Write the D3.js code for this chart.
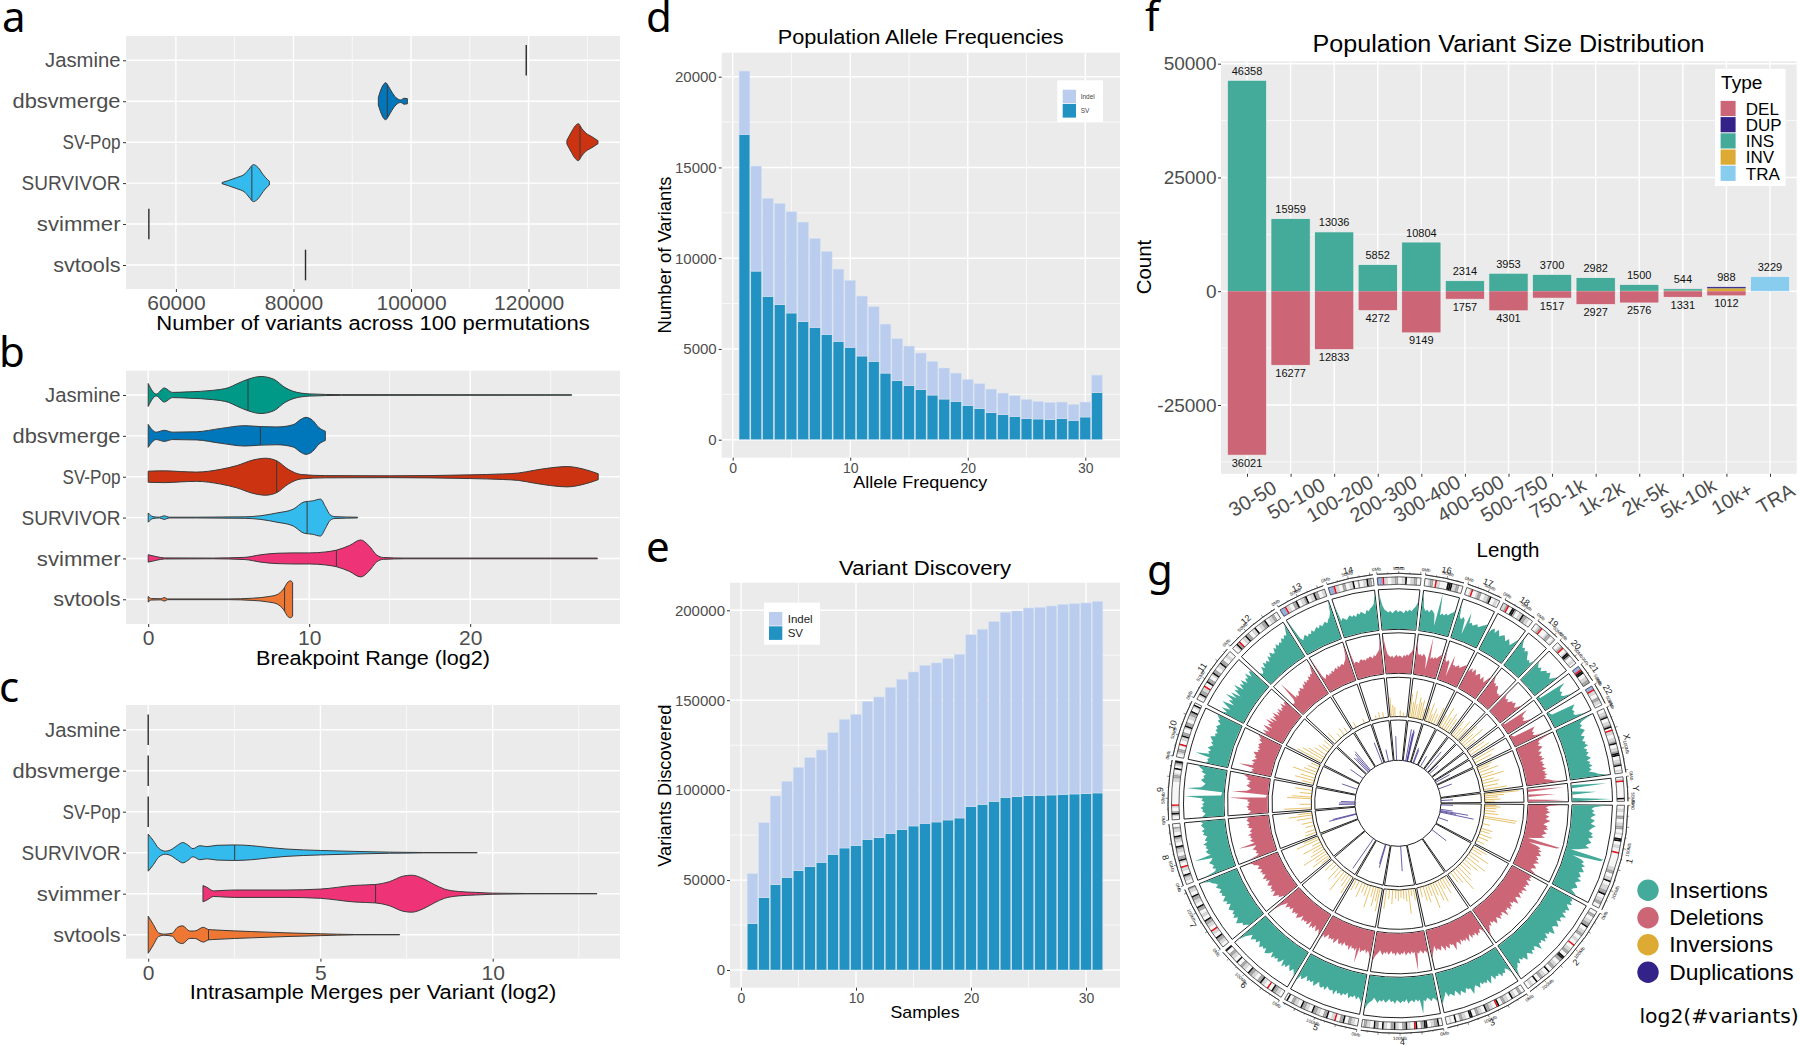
<!DOCTYPE html>
<html lang="en">
<head>
<meta charset="UTF-8">
<title>Population SV merging figure</title>
<script src="https://d3js.org/d3.v7.min.js"></script>
<style>
    body{ margin: 0; background: white; }
    svg{ display: block; }
    text{ font-family: "Liberation Sans", Arial, sans-serif; }
</style>
</head>
<body>
<svg></svg>
<script>
    // ---- panels a-c: violins, [value, relative density]
    const callers = ["Jasmine","dbsvmerge","SV-Pop","SURVIVOR","svimmer","svtools"];
    const callerLabelWidths = [75.5,108,58,99,83.7,67.3];
    const callerColors = ["#009988","#0077BB","#CC3311","#33BBEE","#EE3377","#EE7733"];

    const aSingles = {Jasmine:119600, svimmer:55400, svtools:82050};
    const aDbsvmerge = [[94440,.2],[94790,.55],[95200,.85],[95690,1],[96180,.8],[96730,.5],[97430,.2],[98260,.07],[98820,.16],[99370,.14]];
    const aSvpop = [[126520,.1],[127290,.55],[127980,.9],[128470,1],[129020,.75],[129720,.5],[130760,.3],[131800,.08]];
    const aSurvivor = [[67850,.03],[68960,.14],[70350,.3],[71740,.5],[72430,.75],[73190,1],[73960,.85],[74860,.45],[75550,.2],[75900,.1]];
    const aMedians = {dbsvmerge:95970, "SV-Pop":128750, SURVIVOR:72920};

    const bJasmine = [[0,.62],[.5,.05],[1,.38],[1.5,.14],[2.5,.17],[4,.25],[5,.4],[5.5,.6],[6.2,.85],[7,1],[7.8,.85],[8.5,.4],[9,.2],[10,.06],[12,.02],[26.3,.01]];
    const bDbsvmerge = [[0,.62],[.5,.2],[1,.3],[1.5,.2],[3,.22],[4.5,.4],[6,.55],[7,.5],[8,.48],[9,.6],[9.5,.9],[9.8,1],[10.2,.85],[10.6,.45],[11,.25]];
    const bSvpop = [[0,.3],[1,.32],[2,.28],[3,.25],[4.5,.4],[5.5,.6],[6.5,.9],[7.3,1],[8,.85],[8.7,.4],[9.5,.12],[11,.06],[15,.05],[20,.1],[22,.15],[23,.2],[24,.35],[25,.48],[26,.55],[27,.42],[27.95,.16]];
    const bSurvivor = [[0,.25],[.3,.05],[.7,.02],[1,.1],[1.3,.02],[3,.02],[6,.04],[7,.1],[8,.25],[9,.45],[9.7,.85],[10.2,.9],[10.7,1],[11,.6],[11.3,.15],[11.6,.05],[13,.02]];
    const bSvimmer = [[0,.2],[.5,.1],[1,.03],[4,.02],[6,.06],[7,.2],[8,.28],[9,.3],[10,.3],[11,.35],[11.7,.45],[12.5,.7],[13.2,1],[13.7,.7],[14.2,.18],[14.6,.05],[16,.02],[27.9,.02]];
    const bSvtools = [[0,.15],[.2,.04],[.8,.03],[1,.1],[1.2,.02],[5,.02],[6.5,.06],[7.5,.15],[8,.25],[8.4,.55],[8.7,.95],[8.85,1],[8.97,.9]];
    const bMedians = [6.2,6.97,7.98,9.87,11.69,8.47];

    const cSingles = {Jasmine:0, dbsvmerge:0, "SV-Pop":0};
    const cSurvivor = [[0,1],[.15,.65],[.3,.25],[.5,.08],[.65,.15],[.85,.4],[1,.55],[1.15,.42],[1.3,.22],[1.5,.38],[1.7,.33],[2,.4],[2.5,.42],[3,.38],[3.5,.28],[4,.2],[5,.12],[6,.07],[7,.03],[8,.01],[9.55,.005]];
    const cSvimmer = [[1.59,.44],[1.7,.35],[1.9,.15],[2.2,.18],[2.5,.2],[4,.2],[5,.25],[6,.45],[6.6,.5],[7,.65],[7.4,.95],[7.65,1],[8,.8],[8.3,.5],[8.6,.25],[9,.12],[9.5,.07],[10,.03],[11,.01],[13.03,.005]];
    const cSvtools = [[0,1],[.15,.55],[.3,.1],[.45,.03],[.7,.08],[.85,.4],[1,.48],[1.2,.2],[1.35,.2],[1.6,.4],[1.75,.28],[2,.25],[3,.17],[4,.1],[5,.05],[6,.01],[7.3,.005]];
    const cMedians = {SURVIVOR:2.51, svimmer:6.6, svtools:1.75};

    // ---- panel d
    const afBins = d3.range(1,32);
    const afSv = [16820,9290,7900,7440,6980,6500,6190,5800,5420,5090,4610,4315,3670,3250,2990,2755,2460,2240,2110,1890,1710,1490,1380,1285,1155,1140,1100,1155,1065,1250,2590];
    const afIndel = [3490,5787,5396,5580,5580,5490,4900,4575,3980,3690,3305,3015,2700,2315,2170,2020,1855,1710,1560,1435,1375,1300,1190,1140,1065,970,955,920,880,825,970];

    // ---- panel e
    const discSv = [25770,40220,47450,51530,55240,57460,59870,64320,67840,69320,72660,73590,76000,78040,80080,81560,82300,83410,84520,90830,92120,93790,96020,96390,96940,97130,97310,97690,97870,98060,98430];
    const discIndel = [27800,41710,49310,53380,57460,60610,62470,67660,71550,72850,76740,78220,81190,83600,85630,87860,88420,89900,91010,95640,97320,99910,102870,103240,104360,104540,105100,105650,105840,106020,106580];

    // ---- panel f
    const sizeBins = ["30-50","50-100","100-200","200-300","300-400","400-500","500-750","750-1k","1k-2k","2k-5k","5k-10k","10k+","TRA"];
    const sizeIns = [46358,15959,13036,5852,10804,2314,3953,3680,2920,1400,380,40,0];
    const sizeInv = [0,0,0,0,0,0,0,20,60,90,130,630,0];
    const sizeDup = [0,0,0,0,0,0,0,0,2,10,34,318,0];
    const sizeTra = [0,0,0,0,0,0,0,0,0,0,0,0,3229];
    const sizeDel = [36021,16277,12833,4272,9149,1757,4301,1517,2927,2576,1331,1012,0];
    const typeNames = ["DEL","DUP","INS","INV","TRA"];
    const typeColors = ["#CC6677","#332288","#44AA99","#DDAA33","#88CCEE"];

    // ---- panel g: circos tracks, one list per chromosome (% of ring height)
    const chrNames = ["1","2","3","4","5","6","7","8","9","10","11","12","13","14","15","16","17","18","19","20","21","22","X","Y"];
    const chrLengths = [248,242,198,190,181,170,159,145,138,133,135,133,114,107,102,90,83,80,58,64,46,50,156,57];
    const chrBands = [
        "wwllwwggwwllggwwlwwkkwwllwwrwwwwwwwwllggwwllkwwlllggkwwllggww",
        "wwggwwllggkwwllggwwllwwrwwllggwwkkggwwllggwwkwwllggwwkwwllww",
        "wwggwwllkwwllggwwkrwwllggkwwllggwwkkwwllggwwkwwlww",
        "wwkggllwwkkggwwkrwwllkggwwllkggwwllkwwggkwwllggw",
        "wwllggwwkggwwrllwwkggwwllggkwwllggkwwllggwwkw",
        "wwllggkwwrwwllkggwwllggkwwllggwwkwwllggwwk",
        "wwllggkwwllrwwllggkwwllwwggkwwllggkwwllg",
        "wwllgkwwllrwwlkggwwllgkwwllgkwwllgww",
        "wwlkgwwlrwwwwwwwwwwwwwllgglwwkwlgk",
        "wwlggwwrwwllkggwwlkggwwllggkwwlkw",
        "wwlkggllrwwkggwwlkggwwllkggwwllww",
        "wwlkgrwwllkggwwllkwwllggkwwllggww",
        "bbbrllwwggkwwllgkwwllkggwwll",
        "bbbrllwwggwwllkwwgwwllkggw",
        "bbbrllwwllggwwllkwwllggww",
        "wwlggwrllwwwwkkkllggww",
        "wwlrwwlggwwllgkwwllw",
        "llgrwwkkgwwllkggllww",
        "wwlgrwwwlggwwl",
        "wwlgrwwlkkgwwllw",
        "bbrkkwwllgg",
        "bbrllwwggllw",
        "wwllgkwwllgkwrllwwllgkwwllgkkwwllgkwwlw",
        "wlrwwwwwwwwwkw"
    ];
    const insTrack = [
        [84,55,48,56,50,60,52,47,58,54,49,62,55,50,46,57,53,60,48,52,58,50,45,56,42,30,12,96,90,20,44,52,47,58,50,55,60,48,53,57,50,62,54,49,56,60,52,48,58,66],
        [58,64,60,68,56,62,70,60,65,58,72,63,60,68,57,64,70,61,58,66,74,60,63,55,68,62,70,58,64,60,76,62,57,66,60,70,63,58,66,72,60,64,56,68,62,70,74,92],
        [72,60,56,66,62,70,58,64,60,68,54,62,72,58,66,60,64,56,70,62,58,66,78,60,62,56,68,64,58,70,60,54,66,62,58,64,50,60,68,80],
        [70,62,58,66,60,56,64,60,94,58,62,56,64,58,60,66,54,62,58,64,60,56,66,58,62,54,60,64,56,62,58,66,60,54,62,66,72,84],
        [74,64,58,66,56,62,60,68,54,62,58,66,60,64,56,70,58,62,60,54,66,58,64,62,52,60,68,56,62,58,64,52,60,66,58,76],
        [68,60,54,64,58,50,62,56,66,48,58,62,54,60,56,64,50,58,62,66,54,60,56,64,58,52,62,56,60,66,54,62,70,88],
        [44,50,58,54,62,68,60,56,66,58,62,54,60,64,58,52,62,56,66,60,54,62,58,64,56,60,66,58,62,70,74,90],
        [78,52,48,56,50,54,60,52,48,92,50,56,60,52,58,54,62,50,56,52,48,58,54,60,52,56,60,54,62],
        [56,50,46,54,52,58,50,54,48,56,52,98,8,6,6,94,58,52,48,56,60,52,56,50,62,58,66,72],
        [58,50,54,48,86,52,56,50,60,54,48,56,52,58,62,50,54,48,56,52,58,54,50,60,56,62,68],
        [62,48,66,44,58,72,42,60,50,74,46,66,40,62,52,70,44,60,50,64,46,58,52,66,48,62,58],
        [40,32,36,48,38,52,44,50,42,56,48,60,52,50,62,56,66,58,64,60,70,64,72,68,80,92],
        [100,44,36,42,46,38,44,40,48,42,46,50,44,52,46,50,54,48,56,60,70,100],
        [84,42,48,44,40,46,50,44,48,42,50,46,52,48,44,54,50,56,60,66,90],
        [90,62,50,46,42,46,40,44,48,42,46,44,40,48,44,50,46,52,58,70],
        [96,58,50,54,48,56,52,46,18,100,46,52,48,54,50,56,60,66],
        [88,56,50,58,52,16,74,48,52,46,50,54,48,52,56,60,64],
        [46,58,64,54,66,60,52,58,62,56,50,60,54,48,60,72],
        [82,70,62,66,58,64,60,52,46,50,44,56],
        [64,56,52,58,50,56,62,58,66,60,54,62,72],
        [8,6,78,62,56,60,52,58,76],
        [6,6,10,70,64,58,62,56,60,82],
        [96,68,60,64,56,62,66,58,52,60,56,50,58,54,62,48,56,52,58,50,54,60,48,56,52,60,50,56,48,62,70,90],
        [1,1,88,2,1,1,62,1,1,2,96,1]
    ];
    const delTrack = [
        [78,50,44,52,46,56,48,44,54,50,45,58,52,46,42,53,49,56,44,48,54,46,42,52,38,26,10,94,86,16,40,48,43,54,46,51,56,44,49,53,46,58,50,45,52,56,48,44,54,62],
        [50,56,52,60,48,54,62,52,57,50,64,55,52,60,49,56,62,53,50,58,66,52,55,47,60,54,62,50,56,52,68,54,49,58,52,62,55,50,58,64,52,56,48,60,54,62,66,80],
        [64,52,48,58,54,62,50,56,52,60,46,54,64,50,58,52,56,48,62,54,50,58,70,52,54,48,60,56,50,62,52,46,58,54,50,56,42,52,60,72],
        [58,52,48,56,50,46,54,50,96,48,52,46,54,48,50,56,44,52,48,54,50,46,56,48,52,44,50,54,46,52,48,56,50,44,52,56,62,74],
        [66,56,50,58,48,54,52,60,46,88,50,58,52,56,48,62,50,54,52,46,58,50,56,54,44,52,60,48,54,50,56,44,52,58,50,68],
        [60,52,46,56,50,42,54,48,58,40,50,54,46,52,48,56,42,50,54,58,46,52,48,56,50,44,54,48,52,58,46,54,62,84],
        [40,46,54,50,58,64,56,52,62,54,58,50,56,60,54,48,58,52,62,56,50,58,54,60,52,56,62,54,58,66,68,78],
        [72,50,44,52,46,50,56,48,44,88,46,52,56,48,54,50,58,46,52,48,44,54,50,56,48,52,56,50,58],
        [50,46,42,50,48,54,46,50,44,52,48,96,6,4,4,90,54,48,44,52,56,48,52,46,58,54,62,68],
        [52,46,50,44,84,48,52,46,56,50,44,52,48,54,58,46,50,44,52,48,54,50,46,56,52,58,64],
        [56,46,60,42,54,64,40,56,48,66,44,60,40,56,48,62,42,54,46,58,44,52,48,60,46,56,52],
        [38,34,36,44,92,40,46,40,44,50,46,54,48,46,56,50,60,52,58,54,64,58,66,62,74,86],
        [96,42,34,40,44,36,42,38,46,40,44,48,42,50,44,48,50,46,52,56,66,96],
        [78,40,44,42,38,44,46,42,44,40,46,44,48,46,42,50,46,52,56,62,88],
        [96,66,48,44,40,44,38,42,46,40,44,42,38,46,42,48,44,50,54,66],
        [90,54,48,52,46,54,50,44,16,98,44,50,46,52,48,54,58,62],
        [84,52,48,54,50,14,70,46,48,44,48,52,46,50,54,58,60],
        [44,54,60,50,62,56,48,54,58,52,46,56,50,44,56,68],
        [76,66,58,62,54,60,56,48,44,46,42,52],
        [60,52,48,54,46,52,58,54,62,56,50,58,68],
        [8,6,72,58,52,56,48,54,70],
        [6,6,10,66,60,54,58,52,56,78],
        [92,62,56,60,52,58,62,54,48,56,52,46,54,50,58,44,52,48,54,46,50,56,44,52,48,56,46,52,44,58,66,84],
        [1,1,90,2,1,1,70,1,1,2,92,1]
    ];
    // spikes: [% along the chromosome, % of ring height]
    const invTrack = [
        [[3,30],[6,40],[10,30],[16,28],[22,36],[30,85],[34,82],[48,20],[60,30],[66,24],[74,34],[82,28],[92,22]],
        [[6,40],[12,30],[20,55],[28,34],[36,60],[44,45],[52,30],[60,38],[68,50],[76,70],[84,40],[92,30]],
        [[8,30],[16,45],[24,28],[32,60],[40,52],[48,35],[56,66],[64,30],[72,45],[80,38],[90,26]],
        [[6,30],[14,18],[22,62],[30,30],[38,24],[46,20],[54,28],[62,22],[72,36],[82,24],[92,50]],
        [[8,60],[14,35],[22,50],[30,28],[40,58],[50,30],[60,25],[70,40],[82,22],[92,30]],
        [[8,50],[18,35],[28,25],[38,60],[50,30],[62,42],[76,20],[88,32]],
        [[6,28],[14,50],[24,36],[34,66],[44,40],[54,30],[64,52],[74,24],[86,62],[94,40]],
        [[10,30],[22,26],[40,22],[55,30],[72,40],[84,60],[92,36]],
        [[8,70],[24,30],[48,62],[55,50],[70,30],[85,44]],
        [[10,30],[22,50],[34,38],[50,62],[62,35],[76,28],[90,24]],
        [[8,70],[20,60],[30,46],[44,34],[60,30],[72,22],[88,26]],
        [[14,30],[40,15],[60,22],[78,16]],
        [[20,15],[70,12]],
        [[30,10],[50,16],[72,14]],
        [[8,50],[20,30],[30,24],[60,16],[78,10]],
        [[8,60],[20,40],[30,70],[42,36],[56,55],[66,44],[78,50],[90,30]],
        [[10,36],[26,50],[38,22],[52,40],[70,28],[88,48]],
        [[12,34],[30,60],[48,36],[64,52],[82,40]],
        [[18,46],[40,30],[62,56],[84,38]],
        [[14,60],[36,40],[58,66],[82,34]],
        [[30,50],[70,58]],
        [[28,62],[64,48]],
        [[6,40],[14,30],[24,52],[36,36],[46,60],[58,32],[68,44],[80,38],[92,60]],
        [[12,88],[30,50],[48,34],[70,40],[88,26]]
    ];
    const dupTrack = [
        [[6,30],[28,30],[34,70],[38,40],[42,85],[70,25]],
        [[35,45]],
        [],
        [[38,62]],
        [[30,60],[34,50]],
        [[20,90]],
        [],
        [[40,70],[45,60]],
        [[20,40],[30,40],[40,35]],
        [[50,40]],
        [[55,38]],
        [[20,50],[30,45],[40,55],[50,60]],
        [[80,55]],
        [[45,30]],
        [[30,60]],
        [[35,80],[50,70],[55,80],[60,75]],
        [[30,40],[40,35]],
        [[40,30]],
        [[40,60]],
        [[30,30]],
        [],
        [[40,40]],
        [[30,35]],
        [[50,30]]
    ];
    const circosLegend = ["Insertions","Deletions","Inversions","Duplications"];
    const circosColors = ["#44AA99","#CC6677","#DDAA33","#332288"];

    const svg = d3.select("svg").attr("width",1800).attr("height",1046);
    const gray = "#4d4d4d";

    function fit(sel, w){
        sel.attr("textLength",w).attr("lengthAdjust","spacingAndGlyphs");
        return sel;
    }
    function label(txt,x,y,size,w,anchor){
        const t = svg.append("text").attr("x",x).attr("y",y).attr("font-size",size)
            .attr("text-anchor",anchor||"middle").attr("fill","#000").text(txt);
        if(w) fit(t,w);
        return t;
    }
    function panel(b, xMajor, xMinor, yMajor, yMinor){
        const g = svg.append("g");
        g.append("rect").attr("x",b.x0).attr("y",b.y0).attr("width",b.x1-b.x0).attr("height",b.y1-b.y0).attr("fill","#EBEBEB");
        const vline = (v,w)=>g.append("line").attr("x1",v).attr("x2",v).attr("y1",b.y0).attr("y2",b.y1).attr("stroke","#fff").attr("stroke-width",w);
        const hline = (v,w)=>g.append("line").attr("y1",v).attr("y2",v).attr("x1",b.x0).attr("x2",b.x1).attr("stroke","#fff").attr("stroke-width",w);
        xMinor.forEach(v=>vline(v,.7));
        yMinor.forEach(v=>hline(v,.7));
        xMajor.forEach(v=>vline(v,1.4));
        yMajor.forEach(v=>hline(v,1.4));
    }
    function styleAxis(g, size){
        g.select(".domain").remove();
        g.selectAll("line").attr("stroke","#333");
        g.selectAll("text").attr("font-size",size).attr("fill",gray).style("font-family",'"Liberation Sans"');
    }

    // ---- violins
    function violinPanel(b, x, xTicks, xMinorTicks, yRange, singles, profiles, medians, title){
        const y = d3.scalePoint(callers, yRange);
        panel(b, xTicks.map(x), xMinorTicks.map(x), callers.map(y), []);
        svg.append("g").attr("transform",`translate(0,${b.y1})`)
            .call(d3.axisBottom(x).tickValues(xTicks).tickFormat(d=>String(d)).tickSize(3).tickPadding(3))
            .call(g=>styleAxis(g,21));
        svg.append("g").attr("transform",`translate(${b.x0},0)`)
            .call(d3.axisLeft(y).tickSize(3).tickPadding(2.5))
            .call(g=>styleAxis(g,20.5))
            .call(g=>g.selectAll("text").each(function(d){
                fit(d3.select(this),callerLabelWidths[callers.indexOf(d)]);
            }));

        const half = d3.scaleLinear([0,1],[0,18.5]);
        callers.forEach((c,i)=>{
            const yc = y(c);
            if(singles[c]!==undefined){
                svg.append("line").attr("x1",x(singles[c])).attr("x2",x(singles[c]))
                    .attr("y1",yc-15.3).attr("y2",yc+15.3).attr("stroke","#2b2b2b").attr("stroke-width",1.4);
                return;
            }
            const prof = profiles[c];
            const area = d3.area().x(d=>x(d[0])).y0(d=>yc-half(d[1])).y1(d=>yc+half(d[1])).curve(d3.curveMonotoneX);
            svg.append("path").attr("d",area(prof)).attr("fill",callerColors[i]).attr("stroke","#3a3a3a").attr("stroke-width",1);
            // median bar, density read back from the profile
            const m = medians[c];
            const j = d3.bisector(d=>d[0]).left(prof,m);
            const p0 = prof[j-1], p1 = prof[j];
            const dens = p0[1]+(p1[1]-p0[1])*(m-p0[0])/(p1[0]-p0[0]);
            svg.append("line").attr("x1",x(m)).attr("x2",x(m)).attr("y1",yc-half(dens)).attr("y2",yc+half(dens))
                .attr("stroke","#3a3a3a").attr("stroke-width",1);
        });
        label(title.text,373,title.y,19.5,title.w);
    }

    violinPanel({x0:126,x1:620,y0:36,y1:289},
        d3.scaleLinear([60000,120000],[175.9,528.6]),
        [60000,80000,100000,120000],[70000,90000,110000,130000],[60.3,265],
        aSingles,{dbsvmerge:aDbsvmerge,"SV-Pop":aSvpop,SURVIVOR:aSurvivor},aMedians,
        {text:"Number of variants across 100 permutations",y:330.2,w:433.5});

    violinPanel({x0:126,x1:620,y0:370.7,y1:624},
        d3.scaleLinear([0,20],[148.2,470.2]),
        [0,10,20],[5,15,25],[395,599.3],
        {},{Jasmine:bJasmine,dbsvmerge:bDbsvmerge,"SV-Pop":bSvpop,SURVIVOR:bSurvivor,svimmer:bSvimmer,svtools:bSvtools},
        Object.fromEntries(callers.map((c,i)=>[c,bMedians[i]])),
        {text:"Breakpoint Range (log2)",y:665.2,w:234});

    violinPanel({x0:126,x1:620,y0:705,y1:958.7},
        d3.scaleLinear([0,10],[148.2,492.7]),
        [0,5,10],[2.5,7.5,12.5],[729.7,934.7],
        cSingles,{SURVIVOR:cSurvivor,svimmer:cSvimmer,svtools:cSvtools},cMedians,
        {text:"Intrasample Merges per Variant (log2)",y:999.2,w:366.5});

    // ---- stacked bars d, e
    function stackPanel(b, x, y, xT, xM, yT, yM, sv, indel, xSize, ySize){
        panel(b, xT.map(x), xM.map(x), yT.map(y), yM.map(y));
        svg.append("g").attr("transform",`translate(0,${b.y1})`)
            .call(d3.axisBottom(x).tickValues(xT).tickFormat(d=>String(d)).tickSize(3).tickPadding(2))
            .call(g=>styleAxis(g,xSize));
        svg.append("g").attr("transform",`translate(${b.x0},0)`)
            .call(d3.axisLeft(y).tickValues(yT).tickFormat(d=>String(d)).tickSize(3).tickPadding(2))
            .call(g=>styleAxis(g,ySize));
        const rows = afBins.map((n,i)=>({n:n,SV:sv[i],Indel:indel[i]}));
        const fills = {SV:"#2192C2",Indel:"#BBCDEE"};
        d3.stack().keys(["SV","Indel"])(rows).forEach(s=>{
            svg.append("g").selectAll("rect").data(s).join("rect")
                .attr("x",d=>x(d.data.n-.46)).attr("width",d=>x(d.data.n+.46)-x(d.data.n-.46))
                .attr("y",d=>y(d[1])).attr("height",d=>y(d[0])-y(d[1]))
                .attr("fill",fills[s.key]).attr("stroke","#d5e3f2").attr("stroke-width",.5);
        });
    }
    function barLegend(x,y,w,h,sx,sy,tx,size,color){
        svg.append("rect").attr("x",x).attr("y",y).attr("width",w).attr("height",h).attr("fill","#fff");
        [["Indel","#BBCDEE"],["SV","#2192C2"]].forEach((d,i)=>{
            svg.append("rect").attr("x",sx).attr("y",sy+i*14.3).attr("width",13.3).attr("height",13.6).attr("fill",d[1]);
            svg.append("text").attr("x",tx).attr("y",sy+i*14.3+7).attr("dy",".35em")
                .attr("font-size",size).attr("fill",color).text(d[0]);
        });
    }

    stackPanel({x0:721.7,x1:1120,y0:52.7,y1:457.7},
        d3.scaleLinear([0,30],[732.7,1085.3]), d3.scaleLinear([0,20000],[439.7,76.7]),
        [0,10,20,30],[5,15,25],[0,5000,10000,15000,20000],[2500,7500,12500,17500],afSv,afIndel,14,15);
    barLegend(1057.3,80.3,45.7,41.7,1062.7,89.7,1080.7,6.5,"#444");
    label("Population Allele Frequencies",920.7,44.3,20,286);
    label("Allele Frequency",920.3,488,17,134);
    label("Number of Variants",0,0,18,157).attr("transform","translate(670.7,255) rotate(-90)");

    stackPanel({x0:730,x1:1120,y0:582.7,y1:987.7},
        d3.scaleLinear([0,30],[741,1086]), d3.scaleLinear([0,200000],[970,610.3]),
        [0,10,20,30],[5,15,25],[0,50000,100000,150000,200000],[25000,75000,125000,175000],discSv,discIndel,14,15);
    barLegend(764,602.7,56,42,769,612,787.7,11.5,"#222");
    label("Variant Discovery",925,575.3,20,172);
    label("Samples",925,1018.3,17,69);
    label("Variants Discovered",0,0,18,162).attr("transform","translate(670.7,785.7) rotate(-90)");

    // ---- size distribution f
    const fBox = {x0:1221,x1:1796.7,y0:61.3,y1:473.8};
    const fx = d3.scalePoint(sizeBins,[1247,1770]);
    const fy = d3.scaleLinear([-25000,50000],[405,63.7]);
    panel(fBox, sizeBins.map(fx), [], [50000,25000,0,-25000].map(fy), [37500,12500,-12500,-37500].map(fy));
    svg.append("g").attr("transform",`translate(0,${fBox.y1})`)
        .call(d3.axisBottom(fx).tickSize(3).tickFormat(""))
        .call(g=>styleAxis(g,17));
    svg.append("g").selectAll("text").data(sizeBins).join("text")
        .attr("transform",d=>`translate(${fx(d)+5.5},498.5) rotate(-30)`)
        .attr("text-anchor","middle").attr("dy",".35em").attr("font-size",20).attr("fill",gray).text(d=>d);
    svg.append("g").attr("transform",`translate(${fBox.x0},0)`)
        .call(d3.axisLeft(fy).tickValues([50000,25000,0,-25000]).tickFormat(d=>String(d)).tickSize(3).tickPadding(1.5))
        .call(g=>styleAxis(g,19));

    const sizeRows = sizeBins.map((n,i)=>({n:n,INV:sizeInv[i],INS:sizeIns[i],DUP:sizeDup[i],TRA:sizeTra[i],DEL:-sizeDel[i]}));
    const typeColor = d3.scaleOrdinal(typeNames,typeColors);
    const barW = fx.step()*.9;
    d3.stack().keys(["INV","INS","DUP","TRA"])(sizeRows).forEach(s=>{
        svg.append("g").selectAll("rect").data(s).join("rect")
            .attr("x",d=>fx(d.data.n)-barW/2).attr("width",barW)
            .attr("y",d=>fy(d[1])).attr("height",d=>fy(d[0])-fy(d[1]))
            .attr("fill",typeColor(s.key));
    });
    svg.append("g").selectAll("rect").data(sizeRows).join("rect")
        .attr("x",d=>fx(d.n)-barW/2).attr("width",barW)
        .attr("y",fy(0)).attr("height",d=>fy(d.DEL)-fy(0))
        .attr("fill",typeColor("DEL"));
    // light outline around each whole column, as in the figure
    svg.append("g").selectAll("rect").data(sizeRows).join("rect")
        .attr("x",d=>fx(d.n)-barW/2).attr("width",barW)
        .attr("y",d=>fy(d.INV+d.INS+d.DUP+d.TRA)).attr("height",d=>fy(d.DEL)-fy(d.INV+d.INS+d.DUP+d.TRA))
        .attr("fill","none").attr("stroke","#f2f2f2").attr("stroke-width",.7);
    svg.append("g").selectAll("text").data(sizeRows).join("text")
        .attr("x",d=>fx(d.n)).attr("y",d=>fy(d.INV+d.INS+d.DUP+d.TRA)-5.5)
        .attr("text-anchor","middle").attr("font-size",11).attr("fill","#111")
        .text(d=>d.INV+d.INS+d.DUP+d.TRA);
    svg.append("g").selectAll("text").data(sizeRows.filter(d=>d.DEL<0)).join("text")
        .attr("x",d=>fx(d.n)).attr("y",d=>fy(d.DEL)+11.4)
        .attr("text-anchor","middle").attr("font-size",11).attr("fill","#111")
        .text(d=>-d.DEL);
    svg.append("rect").attr("x",1715).attr("y",68.9).attr("width",70.6).attr("height",117.1).attr("fill","#fff");
    label("Type",1721,88.8,18,41.5,"start");
    typeNames.forEach((t,i)=>{
        svg.append("rect").attr("x",1720.6).attr("y",100.9+i*16.2).attr("width",15).attr("height",15.2).attr("fill",typeColors[i]);
        label(t,1745.8,114.7+i*16.2,17,null,"start");
    });
    label("Population Variant Size Distribution",1508.6,51.6,23,392);
    label("Count",0,0,21,54.4).attr("transform","translate(1150.5,267) rotate(-90)");

    // ---- circos g
    const circos = svg.append("g").attr("clip-path","url(#circosClip)");
    svg.append("clipPath").attr("id","circosClip").append("rect").attr("x",1140).attr("y",567).attr("width",520).attr("height",479);
    const cg = circos.append("g").attr("transform","translate(1398,803.3)");
    const gapDeg = 1;
    const totalLen = d3.sum(chrLengths);
    const degPerMb = (360-gapDeg*chrLengths.length)/totalLen;
    let startDeg = gapDeg/2;
    const sectors = chrLengths.map(len=>{
        const a0 = Math.PI/2+startDeg*Math.PI/180;
        const a1 = a0+len*degPerMb*Math.PI/180;
        startDeg += len*degPerMb+gapDeg;
        return {len:len,a0:a0,a1:a1};
    });
    const rings = [
        {r0:174,r1:214.5,color:circosColors[0],track:insTrack},
        {r0:130,r1:170.5,color:circosColors[1],track:delTrack},
        {r0:86.8,r1:126,color:circosColors[2],spikes:invTrack},
        {r0:43,r1:83.3,color:circosColors[3],spikes:dupTrack}
    ];
    const arcGen = d3.arc();
    rings.forEach(ring=>{
        const height = d3.scaleLinear([0,100],[ring.r0,ring.r1]);
        sectors.forEach((s,i)=>{
            cg.append("path").attr("d",arcGen({innerRadius:ring.r0,outerRadius:ring.r1,startAngle:s.a0,endAngle:s.a1}))
                .attr("fill","#fff").attr("stroke","#222").attr("stroke-width",1);
            if(ring.track){
                const vals = ring.track[i];
                const pos = d3.scaleLinear([0,vals.length-1],[s.a0+.002,s.a1-.002]);
                const area = d3.areaRadial().angle((d,k)=>pos(k)).innerRadius(ring.r0+.4).outerRadius(d=>height(d));
                cg.append("path").attr("d",area(vals)).attr("fill",ring.color);
            }else{
                const pos = d3.scaleLinear([0,100],[s.a0,s.a1]);
                const line = d3.lineRadial().angle(d=>pos(d[0])).radius(d=>height(d[1]));
                ring.spikes[i].forEach(sp=>{
                    cg.append("path").attr("d",line([[sp[0],0],sp]))
                        .attr("stroke",ring.color).attr("stroke-width",.9).attr("fill","none").attr("opacity",.8);
                });
            }
        });
    });
    // ideogram and chromosome axis
    const bandColor = {w:"#f6f6f6",l:"#d4d4d4",g:"#a0a0a0",k:"#111",r:"#e8141c",b:"#8fa8d8"};
    sectors.forEach((s,i)=>{
        const bands = chrBands[i].split("");
        const pos = d3.scaleLinear([0,bands.length],[s.a0,s.a1]);
        bands.forEach((c,k)=>{
            cg.append("path").attr("d",arcGen({innerRadius:219,outerRadius:226.5,startAngle:pos(k),endAngle:pos(k+1)})).attr("fill",bandColor[c]);
        });
        cg.append("path").attr("d",arcGen({innerRadius:219,outerRadius:226.5,startAngle:s.a0,endAngle:s.a1}))
            .attr("fill","none").attr("stroke","#222").attr("stroke-width",.7);
        cg.append("path").attr("d",arcGen({innerRadius:230,outerRadius:230,startAngle:s.a0,endAngle:s.a1}))
            .attr("fill","none").attr("stroke","#222").attr("stroke-width",.7);

        const mb = d3.scaleLinear([0,s.len],[s.a0,s.a1]);
        const deg = a=>a*180/Math.PI;
        const flip = a=>Math.cos(a)<0 ? " rotate(180)" : "";
        d3.range(0,s.len,25).forEach(m=>{
            cg.append("line").attr("transform",`rotate(${deg(mb(m))})`).attr("y1",-230).attr("y2",m%50==0?-232.5:-231.2)
                .attr("stroke","#222").attr("stroke-width",.5);
        });
        const marks = s.len>=150 ? d3.range(0,s.len,100) : [0,50];
        marks.forEach(m=>{
            cg.append("text").attr("transform",`rotate(${deg(mb(m))}) translate(0,-235)${flip(mb(m))}`)
                .attr("text-anchor","middle").attr("dy",".35em").attr("font-size",4.6).attr("fill","#222").text(m+"Mb");
        });
        const mid = (s.a0+s.a1)/2;
        cg.append("text").attr("transform",`rotate(${deg(mid)}) translate(0,-238.5)${flip(mid)}`)
            .attr("text-anchor","middle").attr("dy",".35em").attr("font-size",9).attr("fill","#222").text(chrNames[i]);
    });
    label("Length",1508,556.7,20,62.8);
    circosLegend.forEach((t,i)=>{
        const cy = [890.3,917.7,944.7,972.3][i];
        svg.append("ellipse").attr("cx",1648).attr("cy",cy).attr("rx",10.7).attr("ry",10.7).attr("fill",circosColors[i]);
        label(t,1669.3,cy+7.7,22,[98.7,94.4,103.8,124.4][i],"start");
    });
    label("log2(#variants)",1639.4,1023.3,19,159.4,"start").style("font-family",'"DejaVu Sans"');

    // ---- panel letters
    [["a",2,32],["b",-1,366.7],["c",-1,701.7],["d",646,32],["e",646,561.7],["f",1145,31],["g",1147,585]].forEach(d=>{
        label(d[0],d[1],d[2],42,null,"start").style("font-family",'"Noto Sans"');
    });
</script>
</body>
</html>
